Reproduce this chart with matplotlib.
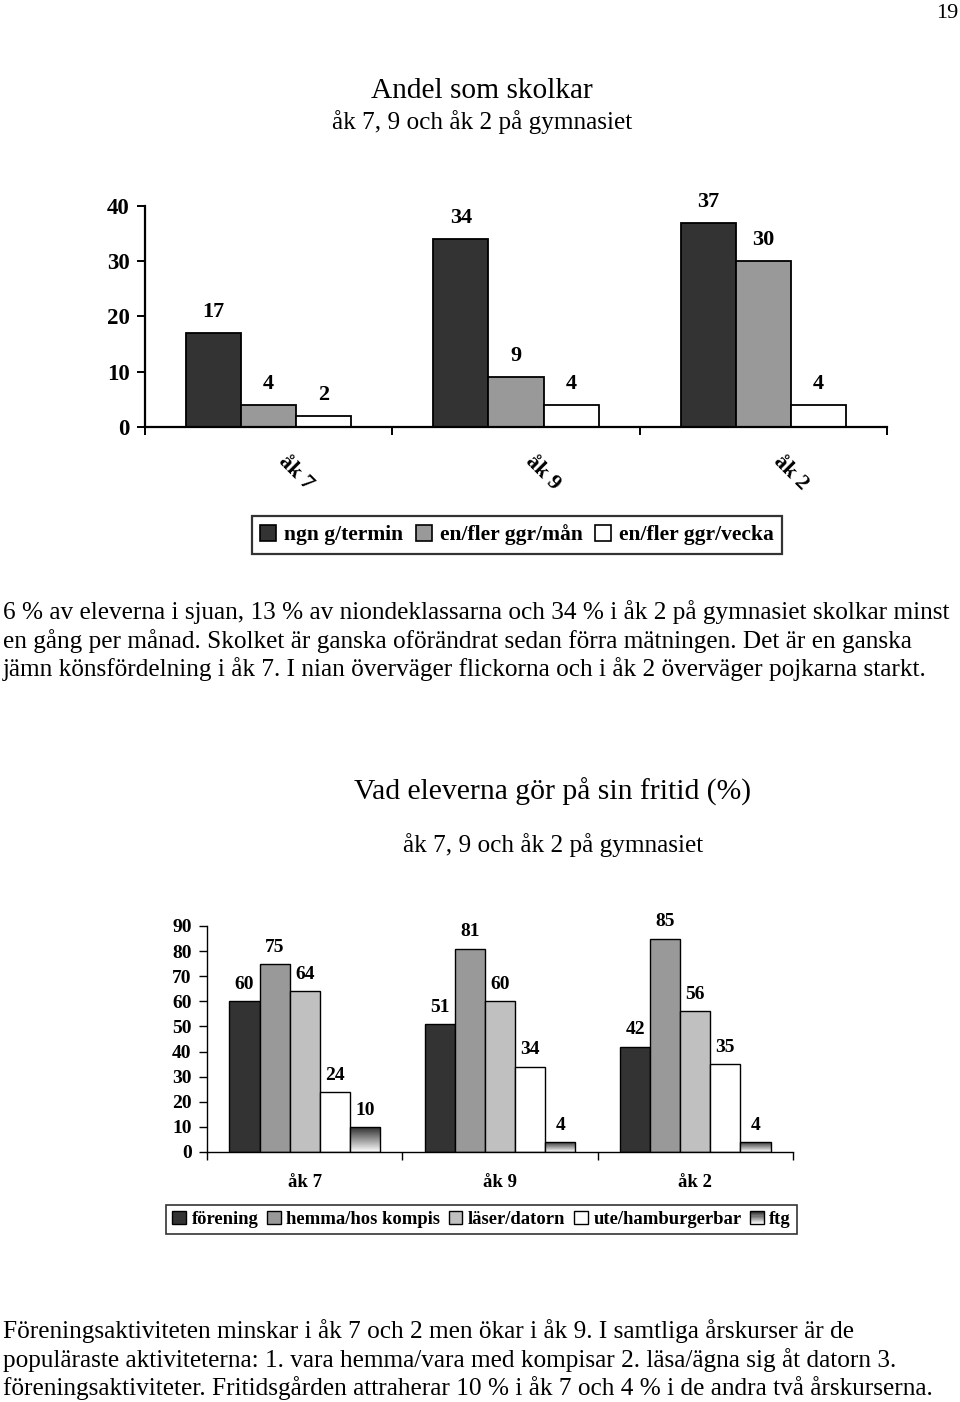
import matplotlib
matplotlib.use("Agg")
import matplotlib.pyplot as plt
import numpy as np
from matplotlib.patches import Patch, Rectangle
from matplotlib.legend_handler import HandlerBase

# ---------------- data ----------------
cats1 = ["åk 7", "åk 9", "åk 2"]
series1 = ["ngn g/termin", "en/fler ggr/mån", "en/fler ggr/vecka"]
ngn_termin = [17, 34, 37]
fler_man = [4, 9, 30]
fler_vecka = [2, 4, 4]
yticks1 = [0, 10, 20, 30, 40]

cats2 = ["åk 7", "åk 9", "åk 2"]
series2 = ["förening", "hemma/hos kompis", "läser/datorn", "ute/hamburgerbar", "ftg"]
forening = [60, 51, 42]
hemma = [75, 81, 85]
laser = [64, 60, 56]
ute = [24, 34, 35]
ftg = [10, 4, 4]
yticks2 = [0, 10, 20, 30, 40, 50, 60, 70, 80, 90]

title1 = "Andel som skolkar"
subtitle1 = "åk 7, 9 och åk 2 på gymnasiet"
title2 = "Vad eleverna gör på sin fritid (%)"
subtitle2 = "åk 7, 9 och åk 2 på gymnasiet"
para1 = ["6 % av eleverna i sjuan, 13 % av niondeklassarna och 34 % i åk 2 på gymnasiet skolkar minst",
         "en gång per månad. Skolket är ganska oförändrat sedan förra mätningen. Det är en ganska",
         "jämn könsfördelning i åk 7. I nian överväger flickorna och i åk 2 överväger pojkarna starkt."]
para2 = ["Föreningsaktiviteten minskar i åk 7 och 2 men ökar i åk 9. I samtliga årskurser är de",
         "populäraste aktiviteterna: 1. vara hemma/vara med kompisar 2. läsa/ägna sig åt datorn 3.",
         "föreningsaktiviteter. Fritidsgården attraherar 10 % i åk 7 och 4 % i de andra två årskurserna."]
page_no = "19"

# ---------------- style ----------------
plt.rcParams['font.family'] = ['Liberation Serif', 'DejaVu Serif']
W, H = 960, 1402
fig = plt.figure(figsize=(W / 100, H / 100), dpi=100)

def fx(px):
    return px / W

def fy(py):
    return 1 - py / H

def axes_px(l, t, r, b):
    return fig.add_axes([fx(l), fy(b), fx(r - l), (b - t) / H])

# ---------------- header texts ----------------
fig.text(fx(958), fy(14), page_no, ha='right', va='center', fontsize=16)
fig.text(fx(482), fy(91), title1, ha='center', va='center', fontsize=21.2)
fig.text(fx(482), fy(122), subtitle1, ha='center', va='center', fontsize=18.2)

# ---------------- chart 1 ----------------
ax1 = axes_px(145, 206, 887, 427)
cols1 = ['#333333', '#999999', '#ffffff']
vals1 = [ngn_termin, fler_man, fler_vecka]
bw1 = 0.223
x1 = np.arange(len(cats1)) + 0.5
for k, (vals, c) in enumerate(zip(vals1, cols1)):
    bars = ax1.bar(x1 + (k - 1) * bw1, vals, width=bw1, color=c, edgecolor='black', linewidth=1.3)
    for b, v in zip(bars, vals):
        ax1.annotate(str(v), (b.get_x() + b.get_width() / 2, v), xytext=(0, 15), textcoords='offset points',
                     ha='center', va='center', fontsize=16, fontweight='bold')
ax1.set_xlim(0, 3)
ax1.set_ylim(0, 40)
ax1.set_yticks(yticks1)
ax1.set_yticklabels([str(t) for t in yticks1], fontsize=16.5, fontweight='bold')
ax1.set_xticks([0, 1, 2, 3])
ax1.set_xticklabels([])
for s in ['top', 'right']:
    ax1.spines[s].set_visible(False)
for s in ['left', 'bottom']:
    ax1.spines[s].set_linewidth(1.6)
ax1.tick_params(axis='both', direction='out', length=6, width=1.4, pad=5)
for i, c in enumerate(cats1):
    ax1.text(i + 0.5 + 0.11, -0.205, c, transform=ax1.get_xaxis_transform(), rotation=-45,
             ha='center', va='center', fontsize=16, fontweight='bold')

handles1 = [Patch(facecolor=c, edgecolor='black', linewidth=1.2) for c in cols1]
leg1 = fig.legend(handles1, series1, loc='center', bbox_to_anchor=(fx(517), fy(535)), ncol=3,
                  prop={'size': 15.5, 'weight': 'bold'}, frameon=True, fancybox=False,
                  edgecolor='black', handlelength=0.75, handleheight=0.75, handletextpad=0.35,
                  columnspacing=0.6, borderpad=0.4, borderaxespad=0)
leg1.get_frame().set_linewidth(1.6)

# ---------------- paragraph 1 ----------------
for i, line in enumerate(para1):
    fig.text(fx(3), fy(612 + i * 28.6), line, ha='left', va='center', fontsize=18.2)

# ---------------- chart 2 ----------------
fig.text(fx(553), fy(792), title2, ha='center', va='center', fontsize=21.3)
fig.text(fx(553), fy(845), subtitle2, ha='center', va='center', fontsize=18.2)

ax2 = axes_px(207, 926, 793, 1152)
cols2 = ['#333333', '#999999', '#c0c0c0', '#ffffff', None]
vals2 = [forening, hemma, laser, ute, ftg]
bw2 = 0.154
x2 = np.arange(len(cats2)) + 0.5
grad = np.linspace(0.15, 1.0, 256).reshape(-1, 1)
for k, (vals, c) in enumerate(zip(vals2, cols2)):
    if c is None:
        bars = ax2.bar(x2 + (k - 2) * bw2, vals, width=bw2, facecolor='none', edgecolor='black',
                       linewidth=1.0, zorder=3)
        for b in bars:
            im = ax2.imshow(grad, cmap='gray', vmin=0, vmax=1, aspect='auto',
                            extent=(b.get_x(), b.get_x() + b.get_width(), 0, b.get_height()),
                            origin='upper', zorder=2)
            im.set_clip_path(b)
    else:
        bars = ax2.bar(x2 + (k - 2) * bw2, vals, width=bw2, color=c, edgecolor='black', linewidth=1.0)
    for b, v in zip(bars, vals):
        ax2.annotate(str(v), (b.get_x() + b.get_width() / 2, v), xytext=(0, 12), textcoords='offset points',
                     ha='center', va='center', fontsize=14, fontweight='bold')
ax2.set_xlim(0, 3)
ax2.set_ylim(0, 90)
ax2.set_yticks(yticks2)
ax2.set_yticklabels([str(t) for t in yticks2], fontsize=14, fontweight='bold')
ax2.set_xticks([0, 1, 2, 3])
ax2.set_xticklabels([])
for s in ['top', 'right']:
    ax2.spines[s].set_visible(False)
for s in ['left', 'bottom']:
    ax2.spines[s].set_linewidth(1.0)
ax2.tick_params(axis='both', direction='out', length=6, width=1.0, pad=5)
for i, c in enumerate(cats2):
    ax2.text(i + 0.5, -0.133, c, transform=ax2.get_xaxis_transform(),
             ha='center', va='center', fontsize=13.5, fontweight='bold')


class GradHandler(HandlerBase):
    def create_artists(self, legend, orig_handle, xdescent, ydescent, width, height, fontsize, trans):
        arts = []
        n = 12
        for j in range(n):
            g = 0.15 + 0.85 * j / (n - 1)
            r = Rectangle((-xdescent, -ydescent + height * (1 - (j + 1) / n)), width, height / n,
                          facecolor=(g, g, g), edgecolor='none', transform=trans)
            arts.append(r)
        arts.append(Rectangle((-xdescent, -ydescent), width, height, facecolor='none',
                              edgecolor='black', linewidth=1.0, transform=trans))
        return arts


handles2 = [Patch(facecolor=c, edgecolor='black', linewidth=1.0) for c in cols2[:4]]
grad_handle = Patch(facecolor='gray')
handles2.append(grad_handle)
leg2 = fig.legend(handles2, series2, loc='center', bbox_to_anchor=(fx(481.5), fy(1219.5)), ncol=5,
                  prop={'size': 13.4, 'weight': 'bold'}, frameon=True, fancybox=False,
                  edgecolor='black', handlelength=0.75, handleheight=0.75, handletextpad=0.3,
                  columnspacing=0.45, borderpad=0.3, borderaxespad=0,
                  handler_map={grad_handle: GradHandler()})
leg2.get_frame().set_linewidth(1.2)

# ---------------- paragraph 2 ----------------
for i, line in enumerate(para2):
    fig.text(fx(3), fy(1331 + i * 28.6), line, ha='left', va='center', fontsize=18.2)

fig.savefig("out.png", dpi=100)
